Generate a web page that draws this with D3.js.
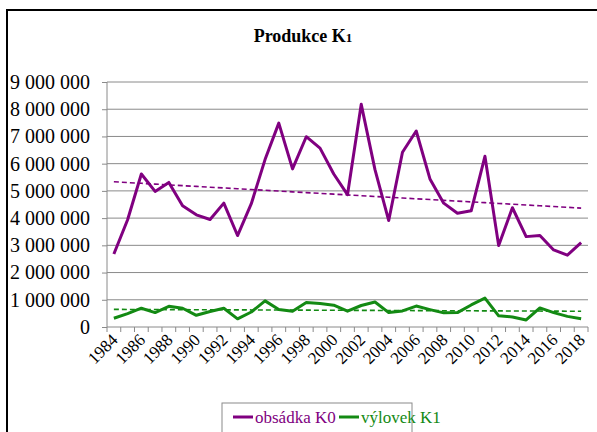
<!DOCTYPE html>
<html>
<head>
<meta charset="utf-8">
<script src="https://cdn.jsdelivr.net/npm/d3@7"></script>
<style>
body{margin:0;background:#fff;}
</style>
</head>
<body>
<script>
var width=597,height=432;
var years=[1984,1985,1986,1987,1988,1989,1990,1991,1992,1993,1994,1995,1996,1997,1998,1999,2000,2001,
           2002,2003,2004,2005,2006,2007,2008,2009,2010,2011,2012,2013,2014,2015,2016,2017,2018];
var obsadka=[2680000,3940000,5620000,4980000,5310000,4450000,4120000,3950000,4550000,3360000,4530000,6150000,7490000,5810000,6990000,6570000,5620000,4860000,
             8180000,5780000,3910000,6420000,7200000,5440000,4550000,4180000,4270000,6270000,2990000,4380000,3320000,3360000,2830000,2640000,3100000];
var vylovek=[320000,490000,690000,530000,760000,690000,430000,570000,690000,300000,550000,960000,640000,580000,900000,860000,800000,580000,
             790000,920000,530000,590000,770000,640000,520000,530000,810000,1060000,410000,370000,260000,700000,530000,390000,300000];
var yTicks=[0,1000000,2000000,3000000,4000000,5000000,6000000,7000000,8000000,9000000];
var seriesNames=["obsádka K0","výlovek K1"];
var colors=["#800080","#138a13"];
var serif="'Liberation Serif', 'Times New Roman', serif";

var margin={left:107,right:9,top:82,bottom:105};
var x0=margin.left,x1=width-margin.right,yTop=margin.top,yBot=height-margin.bottom;

var svg=d3.select("body").append("svg").attr("width",width).attr("height",height);

// frame
svg.append("rect").attr("x",7).attr("y",10).attr("width",620).attr("height",450)
   .attr("fill","none").attr("stroke","#000").attr("stroke-width",2);

var xScale=d3.scaleBand().domain(years).range([x0,x1]);
var yScale=d3.scaleLinear().domain([0,9000000]).range([yBot,yTop]);
function fmt(v){return d3.format(",")(v).replace(/,/g," ");}

// gridlines
svg.append("g").selectAll("line").data(yTicks.slice(1)).enter().append("line")
   .attr("x1",x0).attr("x2",x1)
   .attr("y1",function(d){return yScale(d);}).attr("y2",function(d){return yScale(d);})
   .attr("stroke","#8a8a8a").attr("stroke-width",1);

// y axis
var yAxis=d3.axisLeft(yScale).tickValues(yTicks).tickFormat(fmt).tickSize(5).tickPadding(12);
var ya=svg.append("g").attr("transform","translate("+x0+",0)").call(yAxis);
ya.attr("font-family",serif).attr("font-size",20);
ya.select(".domain").attr("stroke","#8a8a8a").attr("d","M0,"+yTop+"V"+yBot);
ya.selectAll(".tick line").attr("stroke","#8a8a8a");
ya.selectAll("text").style("font-family",serif).style("font-size","20px").attr("fill","#000");

// x axis: ticks between categories
var xa=svg.append("g").attr("transform","translate(0,"+yBot+")");
xa.append("line").attr("x1",x0).attr("x2",x1).attr("stroke","#8a8a8a");
var edges=years.map(function(d){return xScale(d);}).concat([x1]);
xa.selectAll(".tk").data(edges).enter().append("line").attr("class","tk")
  .attr("x1",function(d){return d;}).attr("x2",function(d){return d;})
  .attr("y1",0).attr("y2",5).attr("stroke","#8a8a8a");
xa.selectAll(".lbl").data(years.filter(function(d){return (d-1984)%2==0;})).enter().append("text")
  .attr("class","lbl")
  .attr("transform",function(d){return "translate("+(xScale(d)+xScale.bandwidth()/2+5)+",14) rotate(-45)";})
  .attr("text-anchor","end").style("font-family",serif).style("font-size","17px").attr("fill","#000")
  .text(function(d){return d;});

var line=d3.line().x(function(d,i){return xScale(years[i])+xScale.bandwidth()/2;})
               .y(function(d){return yScale(d);});

function trend(vals){
  var mx=d3.mean(years),my=d3.mean(vals),sxy=0,sxx=0;
  years.forEach(function(y,i){sxy+=(y-mx)*(vals[i]-my);sxx+=(y-mx)*(y-mx);});
  var b=sxy/sxx,a=my-b*mx;
  return years.map(function(y){return a+b*y;});
}

[obsadka,vylovek].forEach(function(vals,k){
  svg.append("path").datum(trend(vals)).attr("d",line).attr("fill","none")
     .attr("stroke",colors[k]).attr("stroke-width",1.6).attr("stroke-dasharray","5,3");
  svg.append("path").datum(vals).attr("d",line).attr("fill","none")
     .attr("stroke",colors[k]).attr("stroke-width",3).attr("stroke-linejoin","round");
});

// title
var t=svg.append("text").attr("x",303).attr("y",42).attr("text-anchor","middle")
   .style("font-family",serif).style("font-size","18px").attr("font-weight","bold").text("Produkce K");
t.append("tspan").style("font-size","13px").text("1");

// legend
var lg=svg.append("g");
lg.append("rect").attr("x",222).attr("y",403).attr("width",190).attr("height",40)
  .attr("fill","#fff").attr("stroke","#8a8a8a").attr("stroke-width",1);
var lx=[233,339];
seriesNames.forEach(function(n,k){
  lg.append("line").attr("x1",lx[k]).attr("x2",lx[k]+20).attr("y1",417).attr("y2",417)
    .attr("stroke",colors[k]).attr("stroke-width",3);
  lg.append("text").attr("x",lx[k]+22).attr("y",423).style("font-family",serif).style("font-size","17px")
    .attr("fill",colors[k]).text(n);
});
</script>
</body>
</html>
